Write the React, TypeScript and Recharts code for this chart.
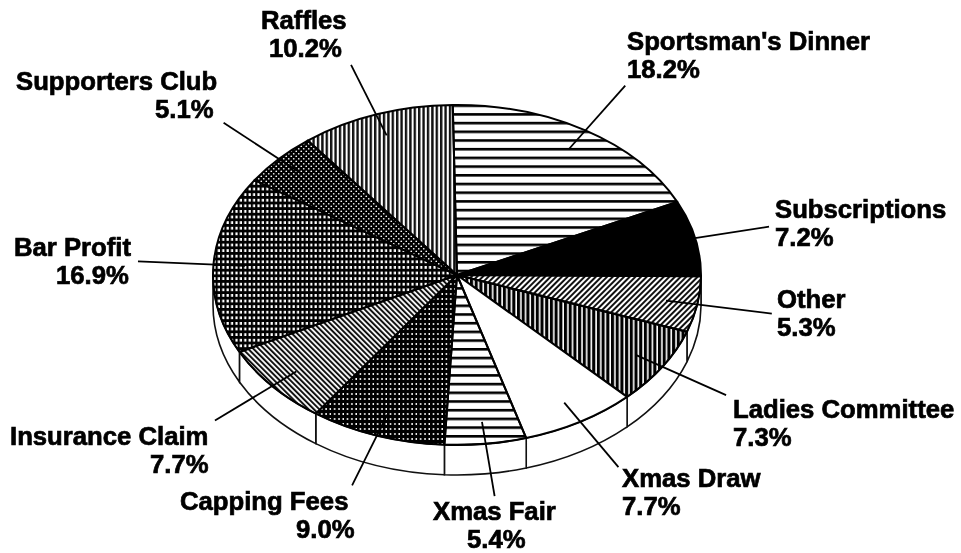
import React from "react";
import { PieChart, Pie } from "recharts";

const names = ["Sportsman's Dinner","Subscriptions","Other","Ladies Committee","Xmas Draw","Xmas Fair","Capping Fees","Insurance Claim","Bar Profit","Supporters Club","Raffles"];
const shares = [18.2,7.2,5.3,7.3,7.7,5.4,9.0,7.7,16.9,5.1,10.2];
const labels = ["18.2%","7.2%","5.3%","7.3%","7.7%","5.4%","9.0%","7.7%","16.9%","5.1%","10.2%"];
const fills = ["url(#hlines)","#000","url(#diagF)","url(#vdark)","#fff","url(#hlines)","url(#gridDark)","url(#diagB)","url(#grid)","url(#dots)","url(#vlines)"];

// [x, first baseline, text-anchor, x of 2nd line]
const labelLayout: [number, number, string, number][] = [
  [627,50,"start",627],[775,218,"start",775],[777,308,"start",777],[733,418,"start",733],
  [622,487,"start",622],[433,520,"start",467],[180,510,"start",296],[10,445,"start",150],
  [14,256,"start",56],[16,90,"start",155],[261,29,"start",269],
];

const W = 961, H = 553, CX = 457, CY = 275, RX = 244, RY = 170, DEPTH = 30;
const RAD = Math.PI / 180;
const SQUASH = RY / RX;

function pt(cx: number, cy: number, r: number, a: number) {
  return [cx + r * Math.cos(a * RAD), cy + r * SQUASH * Math.sin(a * RAD)];
}

function EllipseSector(props: any) {
  const { cx, cy, outerRadius: r, startAngle, endAngle, fill } = props;
  const a1 = -startAngle, a2 = -endAngle; // clockwise screen degrees
  const ry = r * SQUASH;
  const [x1, y1] = pt(cx, cy, r, a1);
  const [x2, y2] = pt(cx, cy, r, a2);
  const large = a2 - a1 > 180 ? 1 : 0;
  const face = `M${cx},${cy}L${x1},${y1}A${r},${ry} 0 ${large} 1 ${x2},${y2}Z`;
  // the wall shows only along the front half of the ellipse
  const ranges = [[a1, a2], [a1 + 360, a2 + 360], [a1 - 360, a2 - 360]];
  const walls: string[] = [];
  for (const [s, e] of ranges) {
    const lo = Math.max(s, 0), hi = Math.min(e, 180);
    if (hi > lo) {
      const [ax, ay] = pt(cx, cy, r, lo);
      const [bx, by] = pt(cx, cy, r, hi);
      walls.push(`M${ax},${ay}L${ax},${ay + DEPTH}A${r},${ry} 0 0 1 ${bx},${by + DEPTH}L${bx},${by}A${r},${ry} 0 0 0 ${ax},${ay}Z`);
    }
  }
  return (
    <g>
      {walls.map((d, i) => <path key={i} d={d} fill="#fff" stroke="#111" strokeWidth={1.6} />)}
      <path d={face} fill={fill} stroke="#000" strokeWidth={2} strokeLinejoin="round" />
    </g>
  );
}

function Callout(props: any) {
  const { cx, cy, midAngle, outerRadius: r, index } = props;
  const [x, y, anchor, x2] = labelLayout[index];
  const [ix, iy] = pt(cx, cy, r * 0.87, -midAngle);
  const [ox, oy] = pt(cx, cy, r * 1.31, -midAngle);
  const textStyle: any = { fontFamily: "Liberation Sans, Arial, sans-serif", fontWeight: 700, fontSize: 25.7, fill: "#000", stroke: "#000", strokeWidth: 0.7 };
  return (
    <g>
      <line x1={ix} y1={iy} x2={ox} y2={oy} stroke="#000" strokeWidth={1.8} />
      <text x={x} y={y} textAnchor={anchor as any} style={textStyle}>{names[index]}</text>
      <text x={x2} y={y + 28} textAnchor={anchor as any} style={textStyle}>{labels[index]}</text>
    </g>
  );
}

const rows = names.map((name, i) => ({ name, value: shares[i], fill: fills[i] }));

export default function App() {
  return (
    <div style={{ position: "absolute", left: 0, top: 0, width: W, height: H, background: "#fff", filter: "blur(0.4px)" }}>
      <PieChart width={W} height={H} margin={{ top: 0, right: 0, bottom: 0, left: 0 }}>
        <defs>
          <pattern id="hlines" patternUnits="userSpaceOnUse" width={8} height={8.7}>
            <rect width={8} height={2.6} fill="#000" />
          </pattern>
          <pattern id="vlines" patternUnits="userSpaceOnUse" width={4.4} height={8}>
            <rect width={2.4} height={8} fill="#111" />
          </pattern>
          <pattern id="vdark" patternUnits="userSpaceOnUse" width={4.7} height={8}>
            <rect width={3.1} height={8} fill="#000" />
          </pattern>
          <pattern id="grid" patternUnits="userSpaceOnUse" width={4.4} height={5.6}>
            <rect width={2.2} height={5.6} fill="#000" />
            <rect width={4.4} height={2.8} fill="#000" />
          </pattern>
          <pattern id="gridDark" patternUnits="userSpaceOnUse" width={4.3} height={5}>
            <rect width={2.9} height={5} fill="#000" />
            <rect width={4.3} height={3} fill="#000" />
          </pattern>
          <pattern id="dots" patternUnits="userSpaceOnUse" width={5} height={5}>
            <rect width={5} height={5} fill="#000" />
            <circle cx={1.25} cy={1.25} r={0.85} fill="#fff" />
            <circle cx={3.75} cy={3.75} r={0.85} fill="#fff" />
          </pattern>
          <pattern id="diagF" patternUnits="userSpaceOnUse" width={4} height={8} patternTransform="rotate(45)">
            <rect width={2} height={8} fill="#111" />
          </pattern>
          <pattern id="diagB" patternUnits="userSpaceOnUse" width={3.8} height={8} patternTransform="rotate(-45)">
            <rect width={2} height={8} fill="#111" />
          </pattern>
        </defs>
        <Pie
          data={rows}
          dataKey="value"
          nameKey="name"
          cx={CX}
          cy={CY}
          innerRadius={0}
          outerRadius={RX}
          startAngle={91}
          endAngle={-269}
          paddingAngle={0}
          isAnimationActive={false}
          shape={EllipseSector}
          label={Callout}
          labelLine={false}
        />
      </PieChart>
    </div>
  );
}
